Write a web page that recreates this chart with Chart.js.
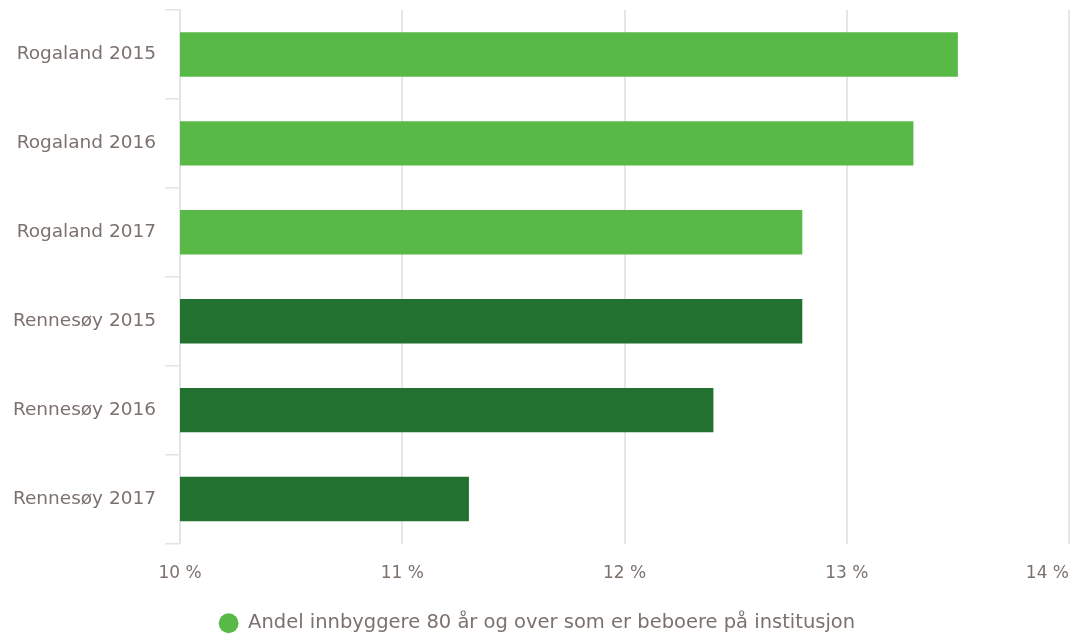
<!DOCTYPE html>
<html>
<head>
<meta charset="utf-8">
<script src="https://cdn.jsdelivr.net/npm/chart.js@4"></script>
<style>
html,body{margin:0;padding:0;background:#fff;}
#wrap{width:1074px;height:639px;position:relative;}
</style>
</head>
<body>
<div id="wrap"><canvas id="c"></canvas></div>
<script>
const categories = ["Rogaland 2015","Rogaland 2016","Rogaland 2017","Rennesøy 2015","Rennesøy 2016","Rennesøy 2017"];
const values = [13.5, 13.3, 12.8, 12.8, 12.4, 11.3];
const barColors = ["#58b947","#58b947","#58b947","#227130","#227130","#227130"];
const seriesLabel = "Andel innbyggere 80 år og over som er beboere på institusjon";
const xMin = 10, xMax = 14, xStep = 1;

const textColor = "#7b716d";
const font = "'DejaVu Sans', sans-serif";

const lastTickAlign = {
  id: 'lastTickAlign',
  beforeDraw(chart) {
    const s = chart.scales.x;
    const items = s.getLabelItems(chart.chartArea);
    const last = items[items.length - 1];
    if (last) {
      last.options.textAlign = 'right';
      last.options.translation[0] = s.right;
    }
  }
};

new Chart(document.getElementById('c'), {
  type: 'bar',
  data: {
    labels: categories,
    datasets: [{
      label: seriesLabel,
      data: values,
      backgroundColor: barColors,
      borderWidth: 0,
      barPercentage: 0.5,
      categoryPercentage: 1.0
    }]
  },
  plugins: [lastTickAlign],
  options: {
    indexAxis: 'y',
    responsive: true,
    maintainAspectRatio: false,
    animation: false,
    layout: { padding: { top: 10, right: 0, left: 0, bottom: -4 } },
    scales: {
      x: {
        min: xMin, max: xMax,
        afterFit(scale) { scale.paddingRight = 5; scale.paddingLeft = 0; scale.height = 67; },
        ticks: {
          stepSize: xStep,
          color: textColor,
          font: { family: font, size: 17 },
          padding: 20,
          maxRotation: 0,
          callback: v => v + ' %'
        },
        grid: { color: '#e6e6e6', lineWidth: 2, drawTicks: false },
        border: { display: false }
      },
      y: {
        afterFit(scale) { scale.width = 180; scale.paddingTop = 0; scale.paddingBottom = 0; },
        ticks: {
          color: textColor,
          font: { family: font, size: 18.5 },
          padding: 9
        },
        grid: { drawOnChartArea: false, color: '#e3e3e3', tickLength: 15, offset: true, lineWidth: 1.5 },
        border: { display: true, color: '#e3e3e3', width: 1.5 }
      }
    },
    plugins: {
      legend: {
        position: 'bottom',
        labels: {
          usePointStyle: true,
          pointStyle: 'circle',
          boxWidth: 19.5,
          boxHeight: 14,
          color: textColor,
          font: { family: font, size: 19.5 },
          padding: 3
        }
      },
      tooltip: { enabled: false }
    }
  }
});
</script>
</body>
</html>
